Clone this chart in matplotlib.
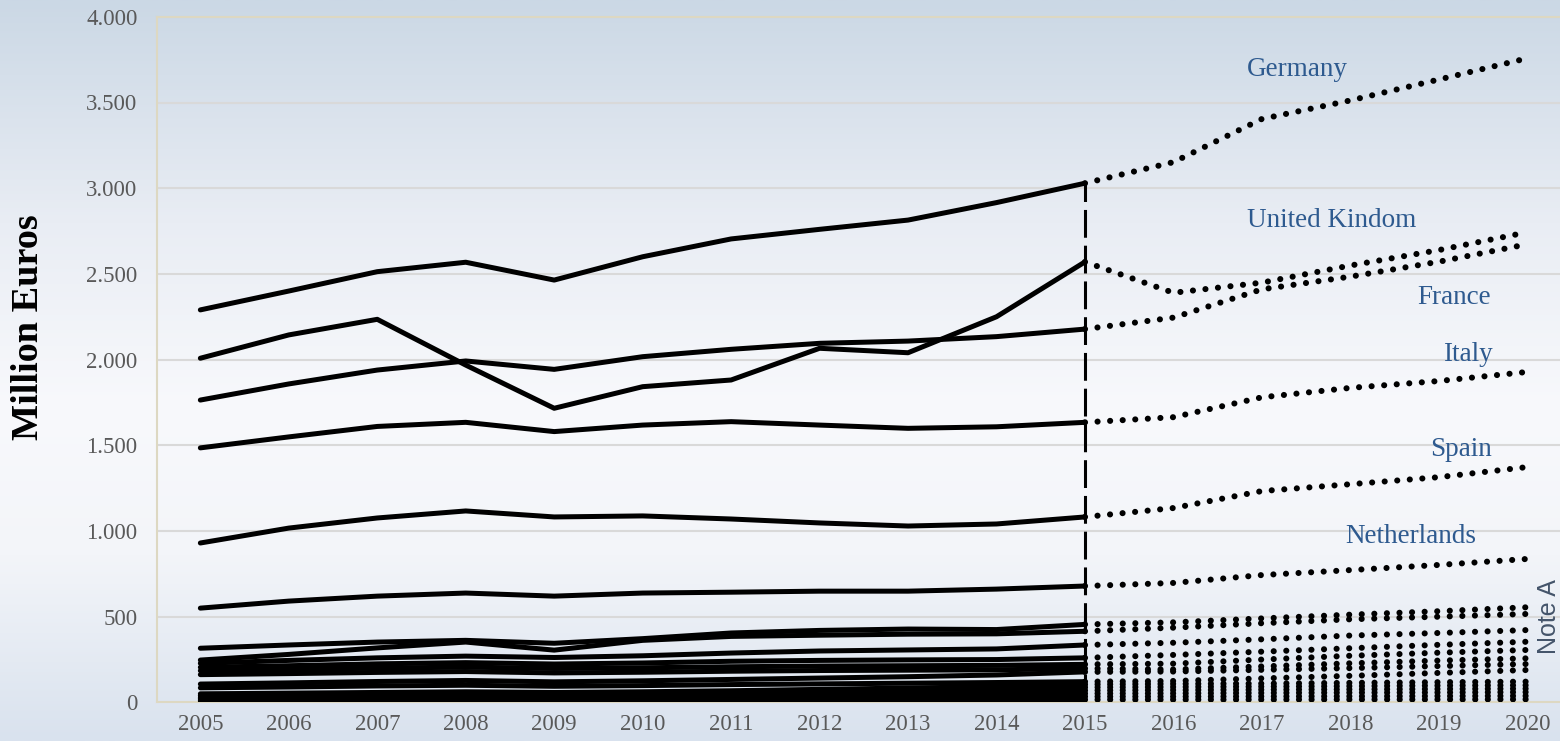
import numpy as np
import matplotlib
matplotlib.use("Agg")
import matplotlib.pyplot as plt
from matplotlib.colors import LinearSegmentedColormap
from matplotlib.ticker import FuncFormatter

# Years: 2005-2015 observed, 2016-2020 projected
years = list(range(2005, 2021))
last_obs = 2015

# Million euros per year (observed + projection)
germany     = [2290, 2400, 2513, 2568, 2464, 2600, 2704, 2760, 2814, 2916, 3029, 3152, 3404, 3512, 3634, 3758]
uk          = [2008, 2144, 2235, 1968, 1716, 1842, 1881, 2066, 2040, 2250, 2570, 2390, 2449, 2549, 2639, 2743]
france      = [1764, 1858, 1939, 1992, 1943, 2017, 2060, 2095, 2108, 2134, 2178, 2245, 2410, 2484, 2571, 2673]
italy       = [1485, 1549, 1610, 1634, 1580, 1618, 1638, 1618, 1599, 1608, 1634, 1664, 1780, 1835, 1875, 1928]
spain       = [930, 1017, 1076, 1117, 1082, 1088, 1070, 1047, 1029, 1041, 1082, 1134, 1233, 1273, 1314, 1373]
netherlands = [550, 591, 620, 638, 620, 638, 643, 649, 649, 661, 679, 697, 743, 772, 802, 837]

# Remaining countries (grouped under Note A)
others = [
    [316, 335, 352, 362, 345, 372, 405, 420, 428, 425, 455, 467, 490, 512, 532, 555],
    [247, 280, 318, 352, 305, 362, 385, 392, 398, 400, 415, 436, 462, 485, 500, 516],
    [228, 245, 260, 270, 262, 272, 288, 300, 306, 312, 335, 348, 368, 390, 405, 422],
    [205, 214, 225, 232, 224, 230, 240, 245, 248, 250, 260, 277, 296, 316, 336, 354],
    [185, 192, 200, 206, 198, 202, 208, 212, 214, 216, 222, 226, 250, 272, 290, 306],
    [162, 168, 175, 180, 172, 176, 182, 186, 188, 190, 198, 192, 210, 228, 244, 257],
    [107, 114, 122, 128, 120, 126, 134, 142, 150, 160, 178, 180, 190, 200, 212, 224],
    [85, 90, 96, 100, 94, 98, 104, 108, 112, 116, 121, 125, 140, 155, 172, 189],
    [50, 54, 58, 62, 58, 62, 68, 76, 84, 92, 105, 108, 110, 114, 118, 121],
    [40, 43, 46, 48, 45, 48, 52, 58, 64, 72, 88, 90, 92, 95, 98, 100],
    [30, 32, 34, 36, 34, 36, 40, 44, 50, 56, 70, 72, 74, 76, 78, 80],
    [22, 24, 26, 27, 26, 27, 30, 33, 38, 42, 52, 53, 55, 57, 58, 60],
    [14, 15, 16, 17, 16, 17, 19, 21, 24, 28, 34, 34, 35, 36, 37, 38],
    [8, 8, 9, 9, 9, 9, 10, 11, 12, 14, 16, 16, 16, 17, 17, 18],
]

labels = ["Germany", "United Kindom", "France", "Italy", "Spain", "Netherlands"]
label_pos = [(2017.40, 3690), (2017.79, 2814), (2019.17, 2365),
             (2019.33, 2027), (2019.25, 1473), (2018.68, 965)]

serif = "Liberation Serif"
label_color = "#2e5a8f"
tick_color = "#595959"

fig = plt.figure(figsize=(15.6, 7.41), dpi=100)

# Background gradient over the whole figure
bg = fig.add_axes([0, 0, 1, 1], zorder=-10)
grad = LinearSegmentedColormap.from_list(
    "bg", [(0.0, "#cbd8e5"), (0.30, "#e9edf4"), (0.55, "#f8f9fc"),
           (0.75, "#f3f5f9"), (1.0, "#d9e2ee")])
bg.imshow(np.linspace(0, 1, 256).reshape(-1, 1), aspect="auto", cmap=grad,
          extent=[0, 1, 0, 1], origin="upper")
bg.axis("off")

ax = fig.add_axes([157 / 1560, 1 - 702.4 / 741, 1 - 157 / 1560, (702.4 - 16.8) / 741])
ax.set_facecolor("none")

solid_kw = dict(color="black", linewidth=3.6, solid_capstyle="round", solid_joinstyle="round")
dot_kw = dict(color="black", linewidth=4.4, linestyle=(0, (0.01, 2.05)), dash_capstyle="round")

n_obs = years.index(last_obs) + 1
series = [germany, uk, france, italy, spain, netherlands] + others
for vals in series:
    ax.plot(years[:n_obs], vals[:n_obs], **solid_kw, zorder=3)
    ax.plot(years[n_obs - 1:], vals[n_obs - 1:], **dot_kw, zorder=3)

# Dashed divider between observed and projected values
ax.plot([last_obs, last_obs], [0, germany[n_obs - 1]], color="black",
        linewidth=2.2, linestyle=(0, (9.1, 2.6)), zorder=4)

for text, (x, y) in zip(labels, label_pos):
    ax.text(x, y, text, ha="center", va="center", fontsize=19.5,
            family=serif, color=label_color)

ax.text(2020.25, 498, "Note A", rotation=90, ha="center", va="center",
        fontsize=18, family="Liberation Sans", color="#44546a")

ax.set_xlim(2004.51, 2020.37)
ax.set_ylim(0, 4000)
ax.set_xticks(years)
ax.set_yticks(range(0, 4001, 500))
ax.yaxis.set_major_formatter(FuncFormatter(lambda v, p: f"{int(v):,}".replace(",", ".")))
ax.tick_params(length=0, labelsize=16.5, labelcolor=tick_color, pad=8)
for lab in ax.get_xticklabels() + ax.get_yticklabels():
    lab.set_fontfamily(serif)
ax.tick_params(axis="y", pad=14)

ax.grid(axis="y", color="#d9d9d9", linewidth=1.5, zorder=0)
ax.set_axisbelow(True)
for side, sp in ax.spines.items():
    sp.set_color("#ddd8c2")
    sp.set_linewidth(1.5)
ax.spines["right"].set_visible(False)

ax.set_ylabel("Million Euros", fontsize=27.5, fontweight="bold", family=serif)
ax.yaxis.set_label_coords(-0.079, 0.548)

fig.savefig("out.png", dpi=100)
